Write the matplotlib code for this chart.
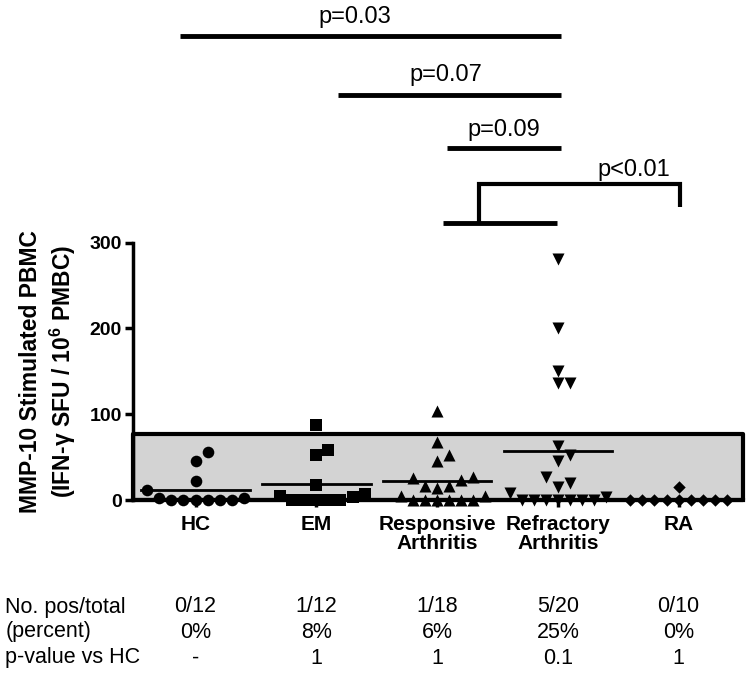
import numpy as np
import matplotlib.pyplot as plt
from matplotlib.patches import Rectangle
from matplotlib.transforms import blended_transform_factory

plt.rcParams['font.family'] = ['Liberation Sans', 'DejaVu Sans']
plt.rcParams['mathtext.fontset'] = 'custom'
plt.rcParams['mathtext.rm'] = 'Liberation Sans'
plt.rcParams['mathtext.bf'] = 'Liberation Sans:bold'

# groups and spot counts (SFU / 10^6 PBMC)
groups = ['HC', 'EM', 'Responsive\nArthritis', 'Refractory\nArthritis', 'RA']
hc = [12, 3, 0, 0, 0, 0, 0, 0, 3, 45, 56, 22]
em = [5, 0, 0, 0, 0, 0, 4, 7, 18, 52, 58, 88]
responsive = [104, 68, 52, 45, 26, 24, 27, 16, 14, 16, 5, 5, 0, 0, 0, 0, 0, 0]
refractory = [281, 200, 151, 137, 136, 63, 53, 45, 27, 20, 15, 8, 4, 0, 0, 0, 0, 0, 0, 0]
ra = [15, 0, 0, 0, 0, 0, 0, 0, 0, 0]
cutoff = 77

# summary table under the plot
pos_total = ['0/12', '1/12', '1/18', '5/20', '0/10']
percent = ['0%', '8%', '6%', '25%', '0%']
p_vs_hc = ['-', '1', '1', '0.1', '1']

markers = ['o', 's', '^', 'v', 'D']
msize = [70, 70, 75, 75, 40]


def swarm(vals, step=0.1, yh=14.0):
    # simple beeswarm: put each point at the first free slot next to the centre
    vals = np.asarray(vals, dtype=float)
    xs = np.zeros(len(vals))
    placed = []
    cands = [0.0]
    for j in range(1, 30):
        cands += [j * step, -j * step]
    for i in np.argsort(vals, kind='stable'):
        v = vals[i]
        for c in cands:
            if all(((c - px) / step) ** 2 + ((v - pv) / yh) ** 2 >= 0.95 for px, pv in placed):
                break
        placed.append((c, v))
        xs[i] = c
    return xs


fig = plt.figure(figsize=(7.5, 6.74), dpi=100)
ax = fig.add_axes([0.177, 0.258, 0.814, 0.382])
xmin, xmax = -0.52, 4.535
ax.set_xlim(xmin, xmax)
ax.set_ylim(0, 300)

# grey "positive cut-off" box
ax.add_patch(Rectangle((xmin, 0), xmax - xmin, cutoff, facecolor='#d3d3d3',
                       edgecolor='black', linewidth=3, joinstyle='round',
                       clip_on=False, zorder=1))

data = [hc, em, responsive, refractory, ra]
for i, vals in enumerate(data):
    xs = i + swarm(vals)
    ax.scatter(xs, vals, marker=markers[i], s=msize[i], color='black',
               linewidths=0, clip_on=False, zorder=3)
    m = np.mean(vals)
    ax.plot([i - 0.45, i + 0.45], [m, m], color='black', lw=2, zorder=2)

ax.spines['top'].set_visible(False)
ax.spines['right'].set_visible(False)
ax.spines['left'].set_linewidth(2.5)
ax.spines['bottom'].set_linewidth(3)
ax.spines['bottom'].set_zorder(4)
ax.spines['left'].set_zorder(4)

ax.set_yticks([0, 100, 200, 300])
ax.set_xticks(range(len(groups)))
ax.set_xticklabels(groups, fontsize=15, fontweight='bold', linespacing=1.0)
ax.tick_params(axis='y', labelsize=14, width=2.5, length=6, pad=2)
ax.tick_params(axis='x', width=2.5, length=5, pad=6)
for lab in ax.get_yticklabels():
    lab.set_fontweight('bold')
ax.set_ylabel('MMP-10 Stimulated PBMC\n(IFN-γ SFU / 10$^\\mathbf{6}$ PMBC)',
              fontsize=16.5, fontweight='bold', labelpad=8, linespacing=1.25)

# significance bars above the plot
bars = [(-0.13, 3.03, 541, 'p=0.03', 1.32, 563),
        (1.18, 3.03, 472, 'p=0.07', 2.07, 495),
        (2.08, 3.03, 410, 'p=0.09', 2.55, 431)]
for x0, x1, y, txt, tx, ty in bars:
    ax.plot([x0, x1], [y, y], color='black', lw=3.5, clip_on=False,
            solid_capstyle='butt')
    ax.text(tx, ty, txt, fontsize=17, ha='center', va='center')

ax.plot([2.05, 2.99], [323, 323], color='black', lw=3.5, clip_on=False,
        solid_capstyle='butt')
ax.plot([2.35, 2.35, 4.01, 4.01], [323, 368, 368, 341], color='black',
        lw=3, clip_on=False, solid_joinstyle='miter', solid_capstyle='butt')
ax.text(3.63, 385, 'p<0.01', fontsize=17, ha='center', va='center')

# table
trans = blended_transform_factory(ax.transData, fig.transFigure)
rows = [('No. pos/total', pos_total, 1 - 607 / 674),
        ('(percent)', percent, 1 - 632 / 674),
        ('p-value vs HC', p_vs_hc, 1 - 658 / 674)]
for name, vals, y in rows:
    fig.text(0.007, y, name, fontsize=15.5, ha='left', va='center')
    for i, v in enumerate(vals):
        ax.text(i, y, v, transform=trans, fontsize=15.5, ha='center', va='center')

fig.savefig('out.png', dpi=100)
